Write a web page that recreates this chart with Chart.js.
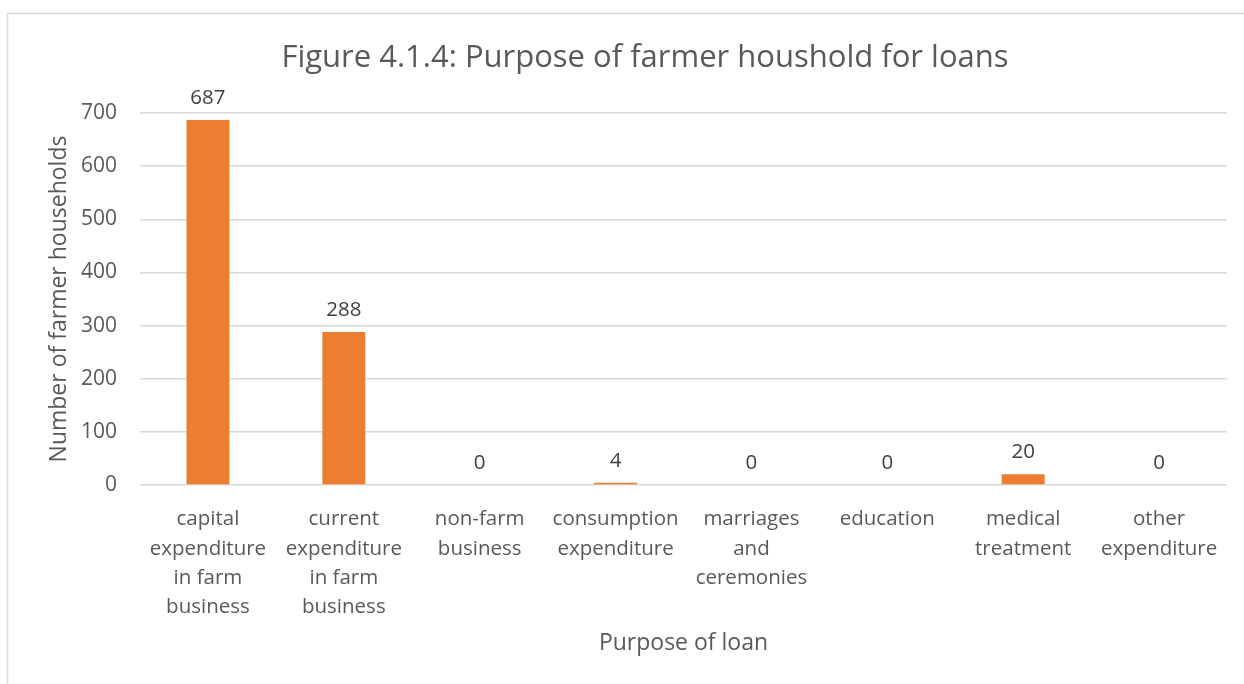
<!DOCTYPE html>
<html>
<head>
<meta charset="utf-8">
<script src="https://cdn.jsdelivr.net/npm/chart.js@4/dist/chart.umd.min.js"></script>
<style>
  html, body { margin: 0; padding: 0; background: #fff; }
  #wrap { width: 1244px; height: 684px; position: relative; }
</style>
</head>
<body>
<div id="wrap"><canvas id="loans"></canvas></div>
<script>
  var purposes = [
    ['capital', 'expenditure', 'in farm', 'business'],
    ['current', 'expenditure', 'in farm', 'business'],
    ['non-farm', 'business'],
    ['consumption', 'expenditure'],
    ['marriages', 'and', 'ceremonies'],
    ['education'],
    ['medical', 'treatment'],
    ['other', 'expenditure']
  ];
  var households = [687, 288, 0, 4, 0, 0, 20, 0];
  var yTicks = [0, 100, 200, 300, 400, 500, 600, 700];
  var chartTitle = 'Figure 4.1.4: Purpose of farmer houshold for loans';

  var FONT = "'Open Sans', 'Noto Sans', sans-serif";
  var AXIS_GREY = '#595959';
  var LABEL_GREY = '#404040';
  var GRID = '#d9d9d9';
  var ORANGE = '#ED7D31';

  // outer frame and heading of the chart box
  var frame = {
    id: 'frame',
    beforeDraw: function (chart) {
      var ctx = chart.ctx;
      ctx.save();
      ctx.strokeStyle = GRID;
      ctx.lineWidth = 1.5;
      ctx.strokeRect(7.5, 13.5, 1300, 800);
      ctx.font = '31px ' + FONT;
      ctx.fillStyle = AXIS_GREY;
      ctx.textAlign = 'center';
      ctx.textBaseline = 'middle';
      ctx.fillText(chartTitle, 645, 58);
      ctx.restore();
    }
  };

  // value printed above every bar
  var valueLabels = {
    id: 'valueLabels',
    afterDatasetsDraw: function (chart) {
      var ctx = chart.ctx;
      var meta = chart.getDatasetMeta(0);
      ctx.save();
      ctx.font = '20.5px ' + FONT;
      ctx.fillStyle = LABEL_GREY;
      ctx.textAlign = 'center';
      ctx.textBaseline = 'alphabetic';
      meta.data.forEach(function (bar, i) {
        ctx.fillText(String(households[i]), bar.x, bar.y - 16);
      });
      ctx.restore();
    }
  };

  new Chart(document.getElementById('loans'), {
    type: 'bar',
    data: {
      labels: purposes,
      datasets: [{
        data: households,
        backgroundColor: ORANGE,
        borderWidth: 0,
        categoryPercentage: 1,
        barPercentage: 0.316
      }]
    },
    options: {
      responsive: true,
      maintainAspectRatio: false,
      animation: false,
      layout: { padding: { left: 7, right: 17, top: 113, bottom: 27 } },
      plugins: {
        legend: { display: false },
        tooltip: { enabled: false },
        title: { display: false }
      },
      scales: {
        x: {
          afterFit: function (scale) { scale.height = 172; },
          grid: { display: false },
          border: { display: false },
          ticks: {
            color: AXIS_GREY,
            padding: 12,
            maxRotation: 0,
            autoSkip: false,
            font: { family: FONT, size: 20.5, lineHeight: 1.42 }
          },
          title: {
            display: true,
            text: 'Purpose of loan',
            color: AXIS_GREY,
            font: { family: FONT, size: 23, lineHeight: 1.2 },
            padding: { top: 0, bottom: 0 }
          }
        },
        y: {
          min: 0,
          max: 700,
          afterBuildTicks: function (scale) {
            scale.ticks = yTicks.map(function (v) { return { value: v }; });
          },
          afterFit: function (scale) { scale.width = 133; },
          grid: { color: GRID, lineWidth: 1.5, drawTicks: false },
          border: { display: false },
          ticks: {
            color: AXIS_GREY,
            padding: 23,
            font: { family: FONT, size: 21 }
          },
          title: {
            display: true,
            text: 'Number of farmer households',
            color: AXIS_GREY,
            font: { family: FONT, size: 23, lineHeight: 1.2 },
            padding: { top: 39, bottom: 0 }
          }
        }
      }
    },
    plugins: [frame, valueLabels]
  });
</script>
</body>
</html>
